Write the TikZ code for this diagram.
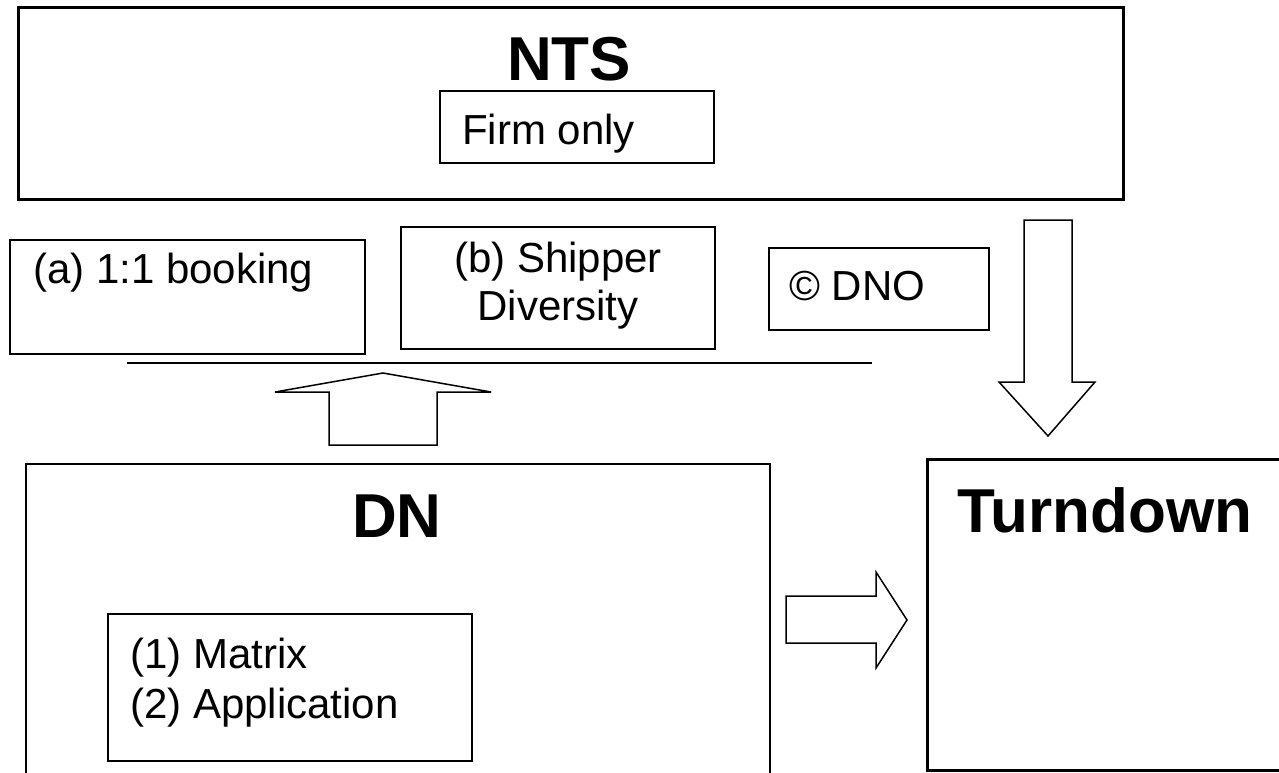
\documentclass[tikz,border=0pt]{standalone}
\usepackage{fontspec}
\setmainfont{Liberation Sans}
\begin{document}
\begin{tikzpicture}[x=1pt,y=-1pt,
  box/.style={draw, line width=1.8pt, inner sep=0pt},
  heavybox/.style={draw, line width=3pt, inner sep=0pt},
  txt/.style={font=\fontsize{42}{48}\selectfont, inner sep=0pt},
  head/.style={font=\fontsize{62}{68}\selectfont\bfseries, inner sep=0pt},
  blockarrow/.style={draw, line width=1.5pt, line join=miter, fill=white}]
\clip (0,0) rectangle (1279,772);

% frames
\node[heavybox, minimum width=1105pt, minimum height=192pt] (nts) at (570.5,103) {};
\node[box, minimum width=274pt, minimum height=72pt] (firm) at (577,127) {};
\node[box, minimum width=355pt, minimum height=114pt] (booking) at (187.5,297) {};
\node[box, minimum width=314pt, minimum height=122pt] (shipper) at (558,288) {};
\node[box, minimum width=220pt, minimum height=82pt] (dno) at (879,289) {};
\node[box, minimum width=744pt, minimum height=340pt] (dn) at (398,634) {};
\node[box, minimum width=364pt, minimum height=147pt] (matrix) at (290,687.5) {};
\node[heavybox, minimum width=363pt, minimum height=311pt] (turn) at (1108.5,614.5) {};

% labels
\node[head, anchor=base] (ntslabel) at (569,80) {NTS};
\node[txt, anchor=base west] (firmlabel) at (462,144) {Firm only};
\node[txt, anchor=base west] (bookinglabel) at (33,283) {(a) 1:1 booking};
\node[txt, anchor=base] (shipperlabel1) at (558,272) {(b) Shipper};
\node[txt, anchor=base] (shipperlabel2) at (558,320) {Diversity};
\node[txt, anchor=base west] (dnolabel) at (789,300) {© DNO};
\node[head, anchor=base] (dnlabel) at (397,537) {DN};
\node[head, anchor=base west] (turnlabel) at (957,532) {Turndown};
\node[txt, anchor=base west] (matrixlabel1) at (130,668) {(1) Matrix};
\node[txt, anchor=base west] (matrixlabel2) at (130,718) {(2) Application};

% rule under the options
\coordinate (rl) at (127,363);
\coordinate (rr) at (872,363);
\draw[line width=1.5pt] (rl) -- (rr);

% block arrows: DN up to the options, NTS down to Turndown, DN across to Turndown
\draw[blockarrow] (329,445) -- (329,392) -- (275,392) -- (383,373) -- (491,392) -- (437,392) -- (437,445) -- cycle;
\draw[blockarrow] (1024,220) -- (1072,220) -- (1072,382) -- (1095,382) -- (1048,436) -- (999,382) -- (1024,382) -- cycle;
\draw[blockarrow] (786,596) -- (876,596) -- (876,572) -- (907,620) -- (876,668) -- (876,643) -- (786,643) -- cycle;
\end{tikzpicture}
\end{document}
